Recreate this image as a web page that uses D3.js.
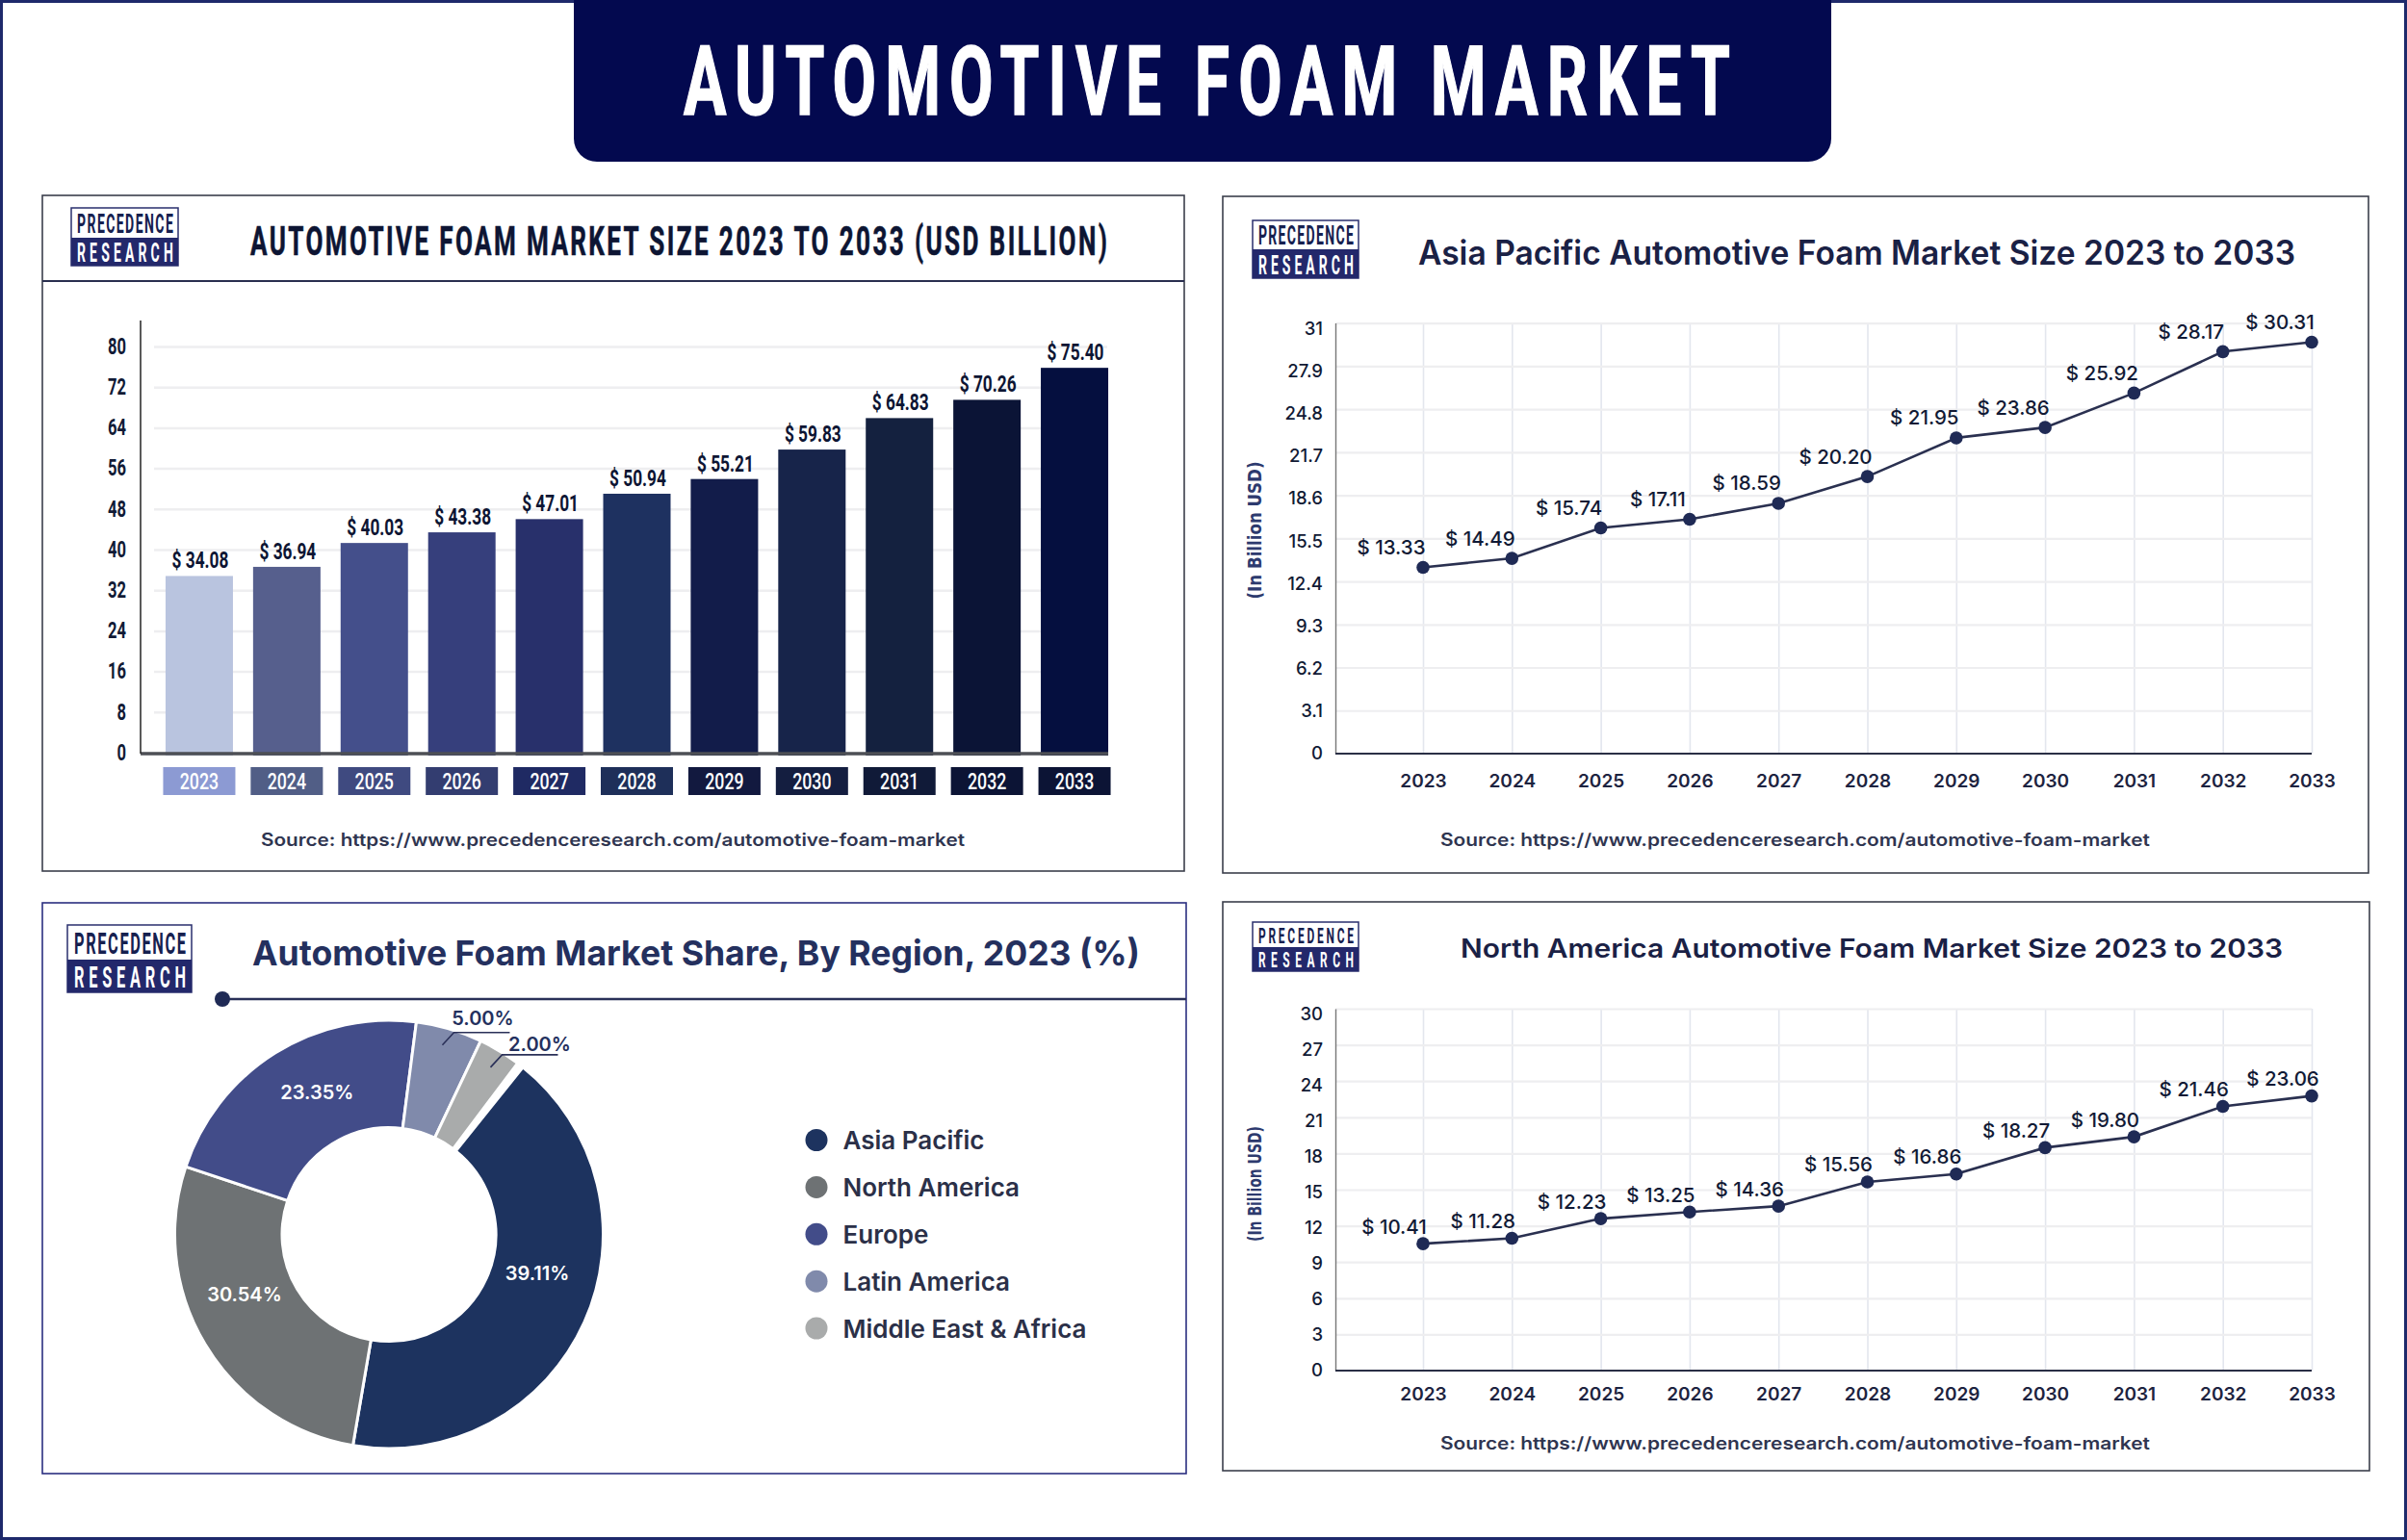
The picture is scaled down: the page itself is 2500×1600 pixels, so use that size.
<!DOCTYPE html>
<html><head><meta charset="utf-8">
<script src="https://cdnjs.cloudflare.com/ajax/libs/d3/7.8.5/d3.min.js"></script>
<style>
html,body{margin:0;padding:0;background:#fff}
svg{display:block}
text{font-family:Inter,"Open Sans",sans-serif}
</style></head><body>
<svg id="c" width="2500" height="1600" viewBox="0 0 2500 1600"></svg>
<script>
const years = ["2023","2024","2025","2026","2027","2028","2029","2030","2031","2032","2033"];

const totalLabels = ["34.08","36.94","40.03","43.38","47.01","50.94","55.21","59.83","64.83","70.26","75.40"];
const totalBars = [34.8,36.6,41.3,43.4,46.0,51.0,53.9,59.7,65.9,69.5,75.8];
const barColors = ["#b9c4df","#565f8d","#444f8b","#363f7c","#28306b","#1e3160","#121c4a","#17244a","#14213f","#0b1436","#050f3f"];
const chipColors = ["#8c9ad3","#515e86","#3f4a80","#333d70","#1f2a63","#1e2f59","#12193f","#141e40","#101a38","#0c1435","#0c1435"];
const totalTicks = [0,8,16,24,32,40,48,56,64,72,80];

const asiaLabels = ["13.33","14.49","15.74","17.11","18.59","20.20","21.95","23.86","25.92","28.17","30.31"];
const asiaPoints = [13.41,14.06,16.25,16.87,18.02,19.95,22.73,23.48,25.96,28.94,29.62];
const asiaTicks = [0,3.1,6.2,9.3,12.4,15.5,18.6,21.7,24.8,27.9,31];

const naLabels = ["10.41","11.28","12.23","13.25","14.36","15.56","16.86","18.27","19.80","21.46","23.06"];
const naPoints = [10.52,10.97,12.60,13.15,13.63,15.64,16.30,18.48,19.38,21.90,22.77];
const naTicks = [0,3,6,9,12,15,18,21,24,27,30];

const regions = ["Asia Pacific","North America","Europe","Latin America","Middle East & Africa"];
const shareLabels = ["39.11%","30.54%","23.35%","5.00%","2.00%"];
const shareSlices = [41.9,27.4,21.9,5.0,3.2];
const shareColors = ["#1d335f","#6e7274","#424c89","#808aab","#a9abab"];

const svg = d3.select("#c");
const COND = 'Roboto,"Liberation Sans",sans-serif';
const INK = "#0d1533";

// horizontally condensed text with computed letter spacing, filling a given width
function condense(parent,x,y,width,size,sx,fill,str,bolden){
  const t = parent.append("text").attr("font-size",size).attr("fill",fill)
    .style("font-family",COND).style("font-weight",700).text(str);
  const nat = t.node().getComputedTextLength();
  const ls = (width/sx-nat)/(str.length-1);
  t.attr("letter-spacing",ls).attr("transform",`translate(${x},${y}) scale(${sx},1)`);
  if(bolden) t.attr("stroke",fill).attr("stroke-width",bolden);
  return t;
}
// squeeze existing labels about their own x anchor
function squeeze(sel,sx){
  sel.each(function(){
    const e=d3.select(this), x=+e.attr("x")||0;
    e.attr("x",x/sx).attr("transform",`scale(${sx},1)`);
  });
}
function fitText(x,y,len,size,weight,fill,str,family){
  return svg.append("text").attr("x",x).attr("y",y).attr("textLength",len).attr("lengthAdjust","spacingAndGlyphs")
    .attr("font-size",size).attr("font-weight",weight).attr("fill",fill)
    .style("font-family",family||"Inter").attr("dominant-baseline","central").text(str);
}

// page frame
svg.append("rect").attr("x",1.5).attr("y",1.5).attr("width",2497).attr("height",1597)
  .attr("fill","#fff").attr("stroke","#1f2a6b").attr("stroke-width",3);

// banner
svg.append("rect").attr("x",596).attr("y",-40).attr("width",1306).attr("height",208).attr("rx",24).attr("fill","#03094f");
condense(svg,710,119,1087,100,0.66,"#fff","AUTOMOTIVE FOAM MARKET",1.5);

function panel(x,y,w,h,stroke){
  svg.append("rect").attr("x",x).attr("y",y).attr("width",w).attr("height",h)
    .attr("fill","#fff").attr("stroke",stroke).attr("stroke-width",1.6);
}
function logo(x,y,w,h,split){
  const g = svg.append("g");
  const fs = h*0.45;
  g.append("rect").attr("x",x).attr("y",y).attr("width",w).attr("height",h).attr("fill","#fff").attr("stroke","#2a2f6e").attr("stroke-width",1.5);
  g.append("rect").attr("x",x).attr("y",y+split).attr("width",w).attr("height",h-split).attr("fill","#23286b");
  condense(g,x+w*0.054,y+split*0.83,w*0.9,fs,0.52,"#16204f","PRECEDENCE");
  condense(g,x+w*0.054,y+split+(h-split)*0.85,w*0.9,fs,0.52,"#fff","RESEARCH");
}
const SRC = "Source: https://www.precedenceresearch.com/automotive-foam-market";

// ---------- panel 1: bars
panel(44,203,1186,702,"#3b3f4c");
svg.append("line").attr("x1",44).attr("x2",1230).attr("y1",292).attr("y2",292).attr("stroke","#2a2f4f").attr("stroke-width",2);
logo(74,216,111,60,31);
condense(svg,260,265,890,42,0.62,INK,"AUTOMOTIVE FOAM MARKET SIZE 2023 TO 2033 (USD BILLION)",0.6);

const bx = d3.scaleBand().domain(years).range([161.5,1161.5]).paddingInner(0.23).paddingOuter(0.115);
const by = d3.scaleLinear().domain([0,80]).range([782,360]);

const gGrid = svg.append("g").attr("transform","translate(160,0)")
  .call(d3.axisLeft(by).tickValues(totalTicks).tickSize(-990).tickFormat(""));
gGrid.select(".domain").remove();
gGrid.selectAll("line").attr("stroke","#eeeef0").attr("stroke-width",2.5)
  .filter(d=>d===0).remove();

svg.append("g").selectAll("rect").data(years).join("rect")
  .attr("x",d=>bx(d)).attr("width",bx.bandwidth())
  .attr("y",(d,i)=>by(totalBars[i])).attr("height",(d,i)=>by(0)+3-by(totalBars[i]))
  .attr("fill",(d,i)=>barColors[i]);

svg.append("line").attr("x1",146).attr("x2",1151).attr("y1",783).attr("y2",783).attr("stroke","#4d4f55").attr("stroke-width",3.5);

const gy1 = svg.append("g").attr("transform","translate(146,0)").call(d3.axisLeft(by).tickValues(totalTicks).tickSize(0).tickPadding(15));
gy1.select(".domain").attr("d","M0,333V783").attr("stroke","#222").attr("stroke-width",1.5);
gy1.selectAll("text").attr("font-size",23).attr("fill","#111a35").style("font-family",COND).style("font-weight",700).call(squeeze,0.72);

const valG = svg.append("g");
valG.selectAll("text").data(years).join("text")
  .attr("x",d=>bx(d)+bx.bandwidth()/2+1).attr("y",(d,i)=>by(totalBars[i])-16)
  .attr("text-anchor","middle").attr("dominant-baseline","central")
  .attr("font-size",24).attr("fill",INK).style("font-family",COND).style("font-weight",700)
  .text((d,i)=>"$ "+totalLabels[i]).call(squeeze,0.72);

const chip = svg.append("g").selectAll("g").data(years).join("g")
  .attr("transform",d=>`translate(${bx(d)+bx.bandwidth()/2},797)`);
chip.append("rect").attr("x",-37.5).attr("width",75).attr("height",29).attr("fill",(d,i)=>chipColors[i]);
chip.append("text").attr("y",14.5).attr("text-anchor","middle").attr("dominant-baseline","central")
  .attr("font-size",24).attr("fill","#fff").style("font-family",COND).style("font-weight",500).text(d=>d).call(squeeze,0.74);

fitText(271,872,731,18,600,"#2f3550",SRC);

// ---------- line panels
function linePanel(o){
  panel(o.px,o.py,o.pw,o.ph,"#3b3f4c");
  logo(o.logo[0],o.logo[1],o.logo[2],o.logo[3],o.logo[4]);
  fitText(o.title[0],o.title[1],o.title[2],o.title[3],600,"#1a2145",o.titleText);
  const x = d3.scalePoint().domain(years).range([1478,2401]);
  const y = d3.scaleLinear().domain(o.domain).range(o.yRange);
  const left = 1387;
  const v = svg.append("g").attr("transform",`translate(0,${o.yRange[0]})`)
    .call(d3.axisBottom(x).tickSize(o.yRange[1]-o.yRange[0]).tickFormat(""));
  v.select(".domain").remove();
  v.selectAll("line").attr("stroke","#e3e6ee").attr("stroke-width",1.6);
  const h = svg.append("g").attr("transform",`translate(${left},0)`)
    .call(d3.axisLeft(y).tickValues(o.ticks).tickSize(-(2401-left)).tickFormat(""));
  h.select(".domain").remove();
  h.selectAll("line").attr("stroke","#eeeef0").attr("stroke-width",2.2).filter(d=>d===0).remove();

  const ay = svg.append("g").attr("transform",`translate(${left},0)`)
    .call(d3.axisLeft(y).tickValues(o.ticks).tickFormat(d=>String(d)).tickSize(0).tickPadding(13));
  ay.select(".domain").attr("stroke","#777").attr("stroke-width",1.4);
  ay.selectAll("text").attr("font-size",18.5).attr("font-weight",500).attr("fill","#111a35").style("font-family","Inter")
    .attr("dy",function(d){return (0.32*18.5+(d/o.domain[1])*5.5).toFixed(1)+"px";});

  const ax = svg.append("g").attr("transform",`translate(0,${o.yRange[0]})`)
    .call(d3.axisBottom(x).tickSize(0).tickPadding(o.xPad));
  ax.select(".domain").remove();
  ax.selectAll("text").attr("font-size",19).attr("font-weight",600).attr("fill","#1d2340").style("font-family","Inter");
  svg.append("line").attr("x1",left).attr("x2",2401).attr("y1",o.yRange[0]).attr("y2",o.yRange[0]).attr("stroke","#2a2f45").attr("stroke-width",2);

  const pts = years.map((yr,i)=>({yr,v:o.points[i],l:o.labels[i]}));
  svg.append("path").datum(pts).attr("fill","none").attr("stroke","#2a3050").attr("stroke-width",2.6)
    .attr("d",d3.line().x(d=>x(d.yr)).y(d=>y(d.v)));
  svg.append("g").selectAll("circle").data(pts).join("circle")
    .attr("cx",d=>x(d.yr)).attr("cy",d=>y(d.v)).attr("r",6.8).attr("fill","#1f2a55");
  svg.append("g").selectAll("text").data(pts).join("text")
    .attr("x",d=>x(d.yr)+o.labelDx).attr("y",d=>y(d.v)+o.labelDy)
    .attr("text-anchor","middle").attr("dominant-baseline","central")
    .attr("font-size",20.5).attr("font-weight",500).attr("fill","#111a35").style("font-family","Inter")
    .text(d=>"$ "+d.l);

  svg.append("text").attr("transform",`translate(1303,${o.yLabel[0]}) rotate(-90)`)
    .attr("text-anchor","middle").attr("dominant-baseline","central")
    .attr("textLength",o.yLabel[1]).attr("lengthAdjust","spacingAndGlyphs")
    .attr("font-size",19).attr("font-weight",700).attr("fill","#2d3a6e").style("font-family","DejaVu Sans")
    .text("(In Billion USD)");
  fitText(1496,o.srcY,737,18,600,"#2f3550",SRC);
}

linePanel({px:1270,py:204,pw:1190,ph:703,logo:[1301,229,110,60,30],
  title:[1473,262,911,35],titleText:"Asia Pacific Automotive Foam Market Size 2023 to 2033",
  domain:[0,31],yRange:[783,335.6],ticks:asiaTicks,points:asiaPoints,labels:asiaLabels,
  labelDx:-33,labelDy:-21,xPad:22,yLabel:[551,143],srcY:872});
linePanel({px:1270,py:937,pw:1191,ph:591,logo:[1301,958,110,51,26],
  title:[1517,985,854,27],titleText:"North America Automotive Foam Market Size 2023 to 2033",
  domain:[0,30],yRange:[1424,1048],ticks:naTicks,points:naPoints,labels:naLabels,
  labelDx:-30,labelDy:-18,xPad:18,yLabel:[1230,120],srcY:1499});

// ---------- panel 3: donut
panel(44,938,1188,593,"#2b2f80");
logo(70,961,129,70,36);
fitText(262,990,922,36,700,"#24305e","Automotive Foam Market Share, By Region, 2023 (%)");
svg.append("line").attr("x1",231).attr("x2",1232).attr("y1",1038).attr("y2",1038).attr("stroke","#2a3058").attr("stroke-width",2.5);
svg.append("circle").attr("cx",231).attr("cy",1038).attr("r",8).attr("fill","#1f2a55");

const cx=404, cy=1282.5, R=222.5, r0=111;
const startDeg = 38.7;
const sweepDeg = 358.2; // the slices leave a small white gap before the first one
const pie = d3.pie().sort(null).startAngle(startDeg*Math.PI/180).endAngle((startDeg+sweepDeg)*Math.PI/180)(shareSlices);
const arc = d3.arc().innerRadius(r0).outerRadius(R);
const donut = svg.append("g").attr("transform",`translate(${cx},${cy})`);
donut.selectAll("path").data(pie).join("path").attr("d",arc)
  .attr("fill",(d,i)=>shareColors[i]).attr("stroke","#fff").attr("stroke-width",3);

const insideNudge = [[2,-27.6],[-7,-23],[14,-6]];
donut.selectAll("text.inside").data(pie.slice(0,3)).join("text").attr("class","inside")
  .attr("x",(d,i)=>arc.centroid(d)[0]+insideNudge[i][0])
  .attr("y",(d,i)=>arc.centroid(d)[1]+insideNudge[i][1])
  .attr("text-anchor","middle").attr("dominant-baseline","central")
  .attr("font-size",20).attr("font-weight",600).attr("fill","#fff").style("font-family","Inter")
  .text((d,i)=>shareLabels[i]);

const leader = d3.arc().innerRadius(204).outerRadius(204);
const leadStyle = [{nx:-2,ny:-1,lx:42,ly:-27.6},{nx:0,ny:1,lx:51,ly:-23.6}];
const outs = pie.slice(3).map((d,i)=>{
  const c=leader.centroid(d), s=leadStyle[i];
  return {i:i+3,p:[c[0]+s.nx,c[1]+s.ny],s};
});
donut.selectAll("path.lead").data(outs).join("path").attr("class","lead")
  .attr("d",o=>`M${o.p[0]},${o.p[1]}L${o.p[0]+12},${o.p[1]-13}H${o.p[0]+70}`)
  .attr("fill","none").attr("stroke","#2a3058").attr("stroke-width",1.6);
donut.selectAll("text.out").data(outs).join("text").attr("class","out")
  .attr("x",o=>o.p[0]+o.s.lx).attr("y",o=>o.p[1]+o.s.ly)
  .attr("text-anchor","middle").attr("dominant-baseline","central")
  .attr("font-size",20).attr("font-weight",600).attr("fill","#24305e").style("font-family","Inter")
  .text(o=>shareLabels[o.i]);

const ly = d3.scalePoint().domain(regions).range([1184.5,1380]);
const leg = svg.append("g").selectAll("g").data(regions).join("g").attr("transform",d=>`translate(848,${ly(d)})`);
leg.append("circle").attr("r",11.5).attr("fill",(d,i)=>shareColors[i]);
leg.append("text").attr("x",27.5).attr("dominant-baseline","central")
  .attr("font-size",26).attr("font-weight",600).attr("fill","#2b3048").style("font-family","Inter").text(d=>d);
</script>
</body></html>
